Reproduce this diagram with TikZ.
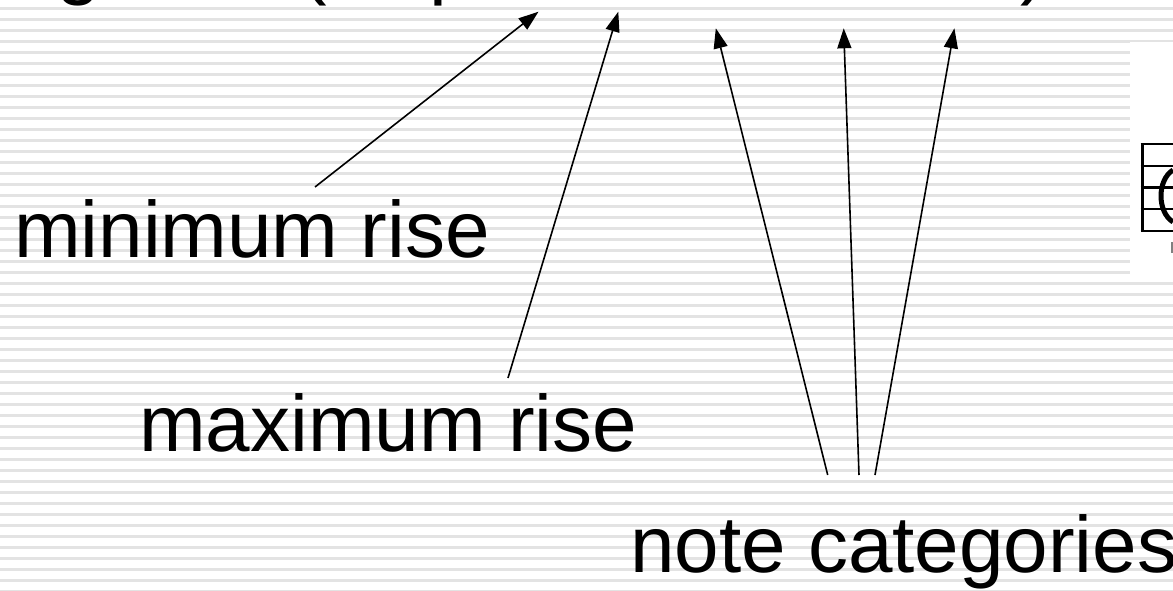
\documentclass[tikz,border=0pt]{standalone}
\usepackage{fontspec}
\setmainfont{Liberation Sans}
\usetikzlibrary{arrows.meta}
\definecolor{rulegray}{HTML}{E3E3E3}
\definecolor{inkx}{HTML}{000000}
\tikzset{
  ar/.style={-{Triangle[length=20pt,width=14pt]},line width=1.6pt,inkx},
  lbl/.style={font=\fontsize{80}{96}\selectfont,anchor=base west,inner sep=0pt,inkx},
  ttl/.style={font=\fontsize{80}{96}\selectfont,anchor=base west,inner sep=0pt,inkx}
}

\begin{document}
\begin{tikzpicture}[x=1pt,y=-1pt]
\useasboundingbox (0,0) rectangle (1173,591);
\clip (0,0) rectangle (1173,591);
% ruled background
\foreach \k in {0,...,53}
  \fill[rulegray] (0,{7+11*\k}) rectangle (1173,{9.7+11*\k});
% picture box at the right edge
\fill[white] (1130,42) rectangle (1173,282);
\draw[line width=3pt] (1142,144) -- (1142,231);
\foreach \y in {144,166,187.5,209,231}
  \draw[line width=2.6pt] (1140.5,\y) -- (1173,\y);
\draw[line width=5pt] (1173,170) .. controls (1157,180) and (1157,212) .. (1173,222);
\draw[line width=2pt,gray] (1172,242) -- (1172,253);
% title, cut off at the top
\node[ttl] (ttlG) at (56,-10.5) {g};
\node[ttl] (ttlOpen) at (300,-10.5) {(};
\node[ttl] (ttlP) at (429,-10.5) {p};
\node[ttl] (ttlClose) at (1020,-10.5) {)};
% labels
\node[lbl] (minRise) at (14,257) {minimum rise};
\node[lbl] (maxRise) at (139,451) {maximum rise};
\node[lbl] (noteCat) at (630,572) {note categories};
% arrows
\coordinate (minTail) at (315,187);
\coordinate (minHead) at (538.5,11.7);
\coordinate (maxTail) at (508,378);
\coordinate (maxHead) at (618.3,11.7);
\coordinate (catTailA) at (827.7,475);
\coordinate (catTailB) at (859,475);
\coordinate (catTailC) at (875,475);
\coordinate (catHeadA) at (715.8,28.3);
\coordinate (catHeadB) at (843.7,28.3);
\coordinate (catHeadC) at (954.4,28.3);
\draw[ar] (minTail) -- (minHead);
\draw[ar] (maxTail) -- (maxHead);
\draw[ar] (catTailA) -- (catHeadA);
\draw[ar] (catTailB) -- (catHeadB);
\draw[ar] (catTailC) -- (catHeadC);
\end{tikzpicture}
\end{document}
